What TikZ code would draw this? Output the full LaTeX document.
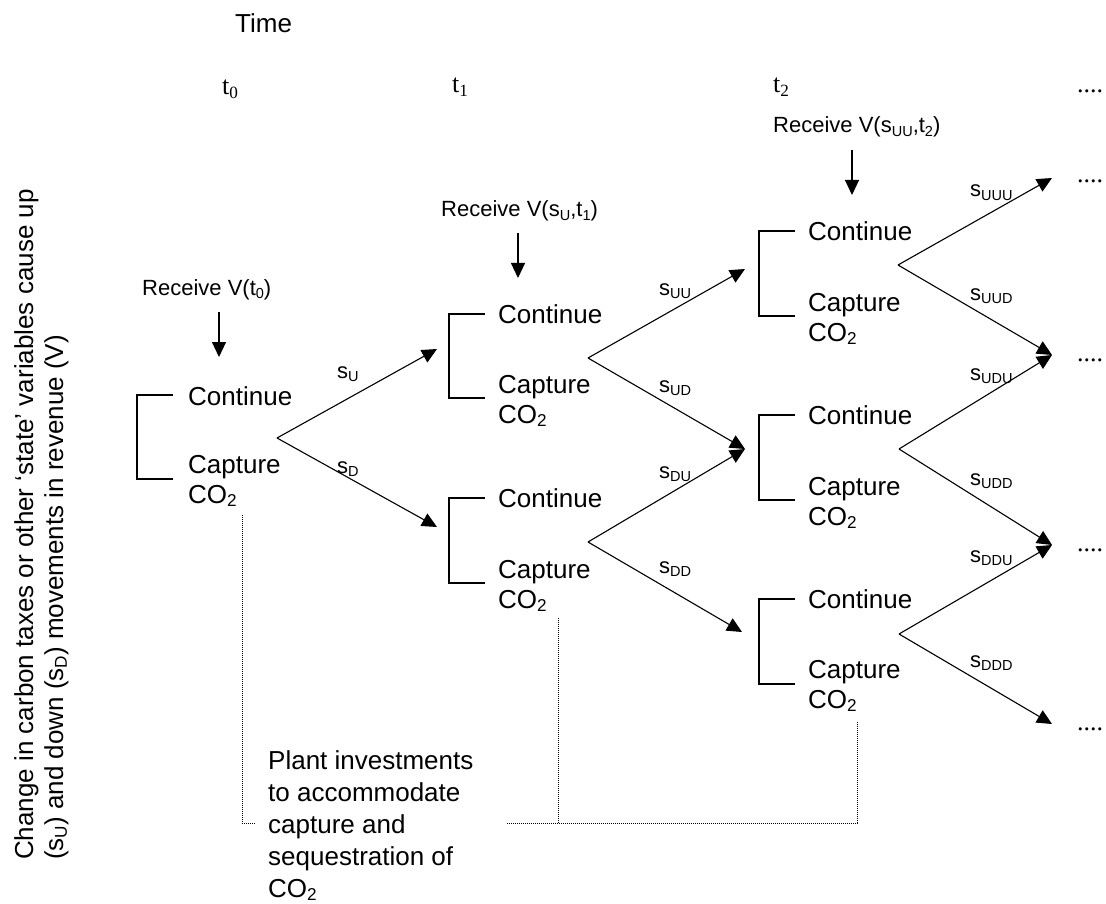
\documentclass[tikz,border=0pt]{standalone}
\usepackage{fontspec}
\setmainfont{Liberation Sans}
\newfontfamily\tms{Liberation Serif}
\usetikzlibrary{arrows.meta}
\newcommand\lowsub[1]{\raisebox{-0.15em}{\scalebox{0.66}{#1}}}
\tikzset{
  lbl/.style={anchor=base west, inner sep=0pt, align=left, font=\fontsize{26}{30}\selectfont},
  sml/.style={anchor=base west, inner sep=0pt, font=\fontsize{22}{26}\selectfont},
  tml/.style={anchor=base west, inner sep=0pt, font=\tms\fontsize{26}{30}\selectfont},
  arr/.style={-{Triangle[length=15pt,width=14pt]}, line width=1.1pt},
  brk/.style={line width=1.1pt},
  plandot/.style={line width=0.8pt, dash pattern=on 1pt off 1pt}
}
\begin{document}
\begin{tikzpicture}[x=1pt,y=-1pt]
  \useasboundingbox (0,0) rectangle (1106,904);
  % time row
  \node[lbl] (time) at (235,33) {Time};
  \node[tml] (t0) at (222,95) {t\lowsub{0}};
  \node[tml] (t1) at (452,93) {t\lowsub{1}};
  \node[tml] (t2) at (773,93) {t\lowsub{2}};
  \node[tml] (e0) at (1077,93) {....};
  % side label
  \node[lbl, rotate=90, anchor=north west] (side) at (14,860)
    {Change in carbon taxes or other ‘state’ variables cause up\\(s\lowsub{U}) and down (s\lowsub{D}) movements in revenue (V)};
  % decisions, stage 0 (multi-line nodes sit on their last line)
  \draw[brk] (173,395) -- (137,395) -- (137,479) -- (173,479);
  \node[lbl] (k0) at (188,405) {Continue};
  \node[lbl] (c0) at (188,503) {Capture\\CO\lowsub{2}};
  % decisions, stage 1
  \draw[brk] (485,314) -- (449,314) -- (449,398) -- (485,398);
  \node[lbl] (k1u) at (498,323) {Continue};
  \node[lbl] (c1u) at (498,423) {Capture\\CO\lowsub{2}};
  \draw[brk] (485,498) -- (449,498) -- (449,583) -- (485,583);
  \node[lbl] (k1d) at (498,507) {Continue};
  \node[lbl] (c1d) at (498,608) {Capture\\CO\lowsub{2}};
  % decisions, stage 2
  \draw[brk] (795,231) -- (759,231) -- (759,316) -- (795,316);
  \node[lbl] (k2t) at (808,241) {Continue};
  \node[lbl] (c2t) at (808,341) {Capture\\CO\lowsub{2}};
  \draw[brk] (795,415) -- (759,415) -- (759,500) -- (795,500);
  \node[lbl] (k2m) at (808,424) {Continue};
  \node[lbl] (c2m) at (808,525) {Capture\\CO\lowsub{2}};
  \draw[brk] (795,599) -- (759,599) -- (759,684) -- (795,684);
  \node[lbl] (k2b) at (808,608) {Continue};
  \node[lbl] (c2b) at (808,708) {Capture\\CO\lowsub{2}};
  % receive labels
  \node[sml] (r0) at (142,295) {Receive V(t\lowsub{0})};
  \node[sml] (r1) at (441,217) {Receive V(s\lowsub{U},t\lowsub{1})};
  \node[sml] (r2) at (773,133) {Receive V(s\lowsub{UU},t\lowsub{2})};
  \coordinate (r0s) at (219,312);
  \coordinate (r0e) at (219,357);
  \coordinate (r1s) at (518,233);
  \coordinate (r1e) at (518,278);
  \coordinate (r2s) at (852,150);
  \coordinate (r2e) at (852,195);
  \draw[arr] (r0s) -- (r0e);
  \draw[arr] (r1s) -- (r1e);
  \draw[arr] (r2s) -- (r2e);
  % forks and arrow tips
  \coordinate (a0) at (277,438);
  \coordinate (a1u) at (588,358);
  \coordinate (a1d) at (588,542);
  \coordinate (a2t) at (898,265);
  \coordinate (a2m) at (899,449);
  \coordinate (a2b) at (899,634);
  \coordinate (p0u) at (437,349);
  \coordinate (p0d) at (437,527);
  \coordinate (p1u) at (745,269);
  \coordinate (p1m) at (745,449);
  \coordinate (p1d) at (742,632);
  \coordinate (p2a) at (1052,178);
  \coordinate (p2b) at (1052,355);
  \coordinate (p2c) at (1052,545);
  \coordinate (p2d) at (1052,724);
  \draw[arr] (a0) -- (p0u);
  \draw[arr] (a0) -- (p0d);
  \draw[arr] (a1u) -- (p1u);
  \draw[arr] (a1u) -- (p1m);
  \draw[arr] (a1d) -- (p1m);
  \draw[arr] (a1d) -- (p1d);
  \draw[arr] (a2t) -- (p2a);
  \draw[arr] (a2t) -- (p2b);
  \draw[arr] (a2m) -- (p2b);
  \draw[arr] (a2m) -- (p2c);
  \draw[arr] (a2b) -- (p2c);
  \draw[arr] (a2b) -- (p2d);
  % state labels
  \node[sml] (su) at (337,378) {s\lowsub{U}};
  \node[sml] (sd) at (337,473) {s\lowsub{D}};
  \node[sml] (suu) at (659,295) {s\lowsub{UU}};
  \node[sml] (sud) at (659,392) {s\lowsub{UD}};
  \node[sml] (sdu) at (659,478) {s\lowsub{DU}};
  \node[sml] (sdd) at (659,573) {s\lowsub{DD}};
  \node[sml] (suuu) at (970,197) {s\lowsub{UUU}};
  \node[sml] (suud) at (970,300) {s\lowsub{UUD}};
  \node[sml] (sudu) at (970,380) {s\lowsub{UDU}};
  \node[sml] (sudd) at (970,485) {s\lowsub{UDD}};
  \node[sml] (sddu) at (970,562) {s\lowsub{DDU}};
  \node[sml] (sddd) at (970,667) {s\lowsub{DDD}};
  \node[tml] (e1) at (1077,183) {....};
  \node[tml] (e2) at (1077,361) {....};
  \node[tml] (e3) at (1077,551) {....};
  \node[tml] (e4) at (1077,730) {....};
  % plant investments
  \node[lbl, font=\fontsize{26}{32}\selectfont] (pl) at (268,897)
    {Plant investments\\to accommodate\\capture and\\sequestration of\\CO\lowsub{2}};
  \coordinate (d0) at (242,515);
  \coordinate (d0e) at (255,823);
  \coordinate (d1) at (558,618);
  \coordinate (d2) at (857,722);
  \coordinate (d2e) at (506,823);
  \draw[plandot] (d0) |- (d0e);
  \draw[plandot] (d1) -- (d1 |- d2e);
  \draw[plandot] (d2) |- (d2e);
\end{tikzpicture}
\end{document}
